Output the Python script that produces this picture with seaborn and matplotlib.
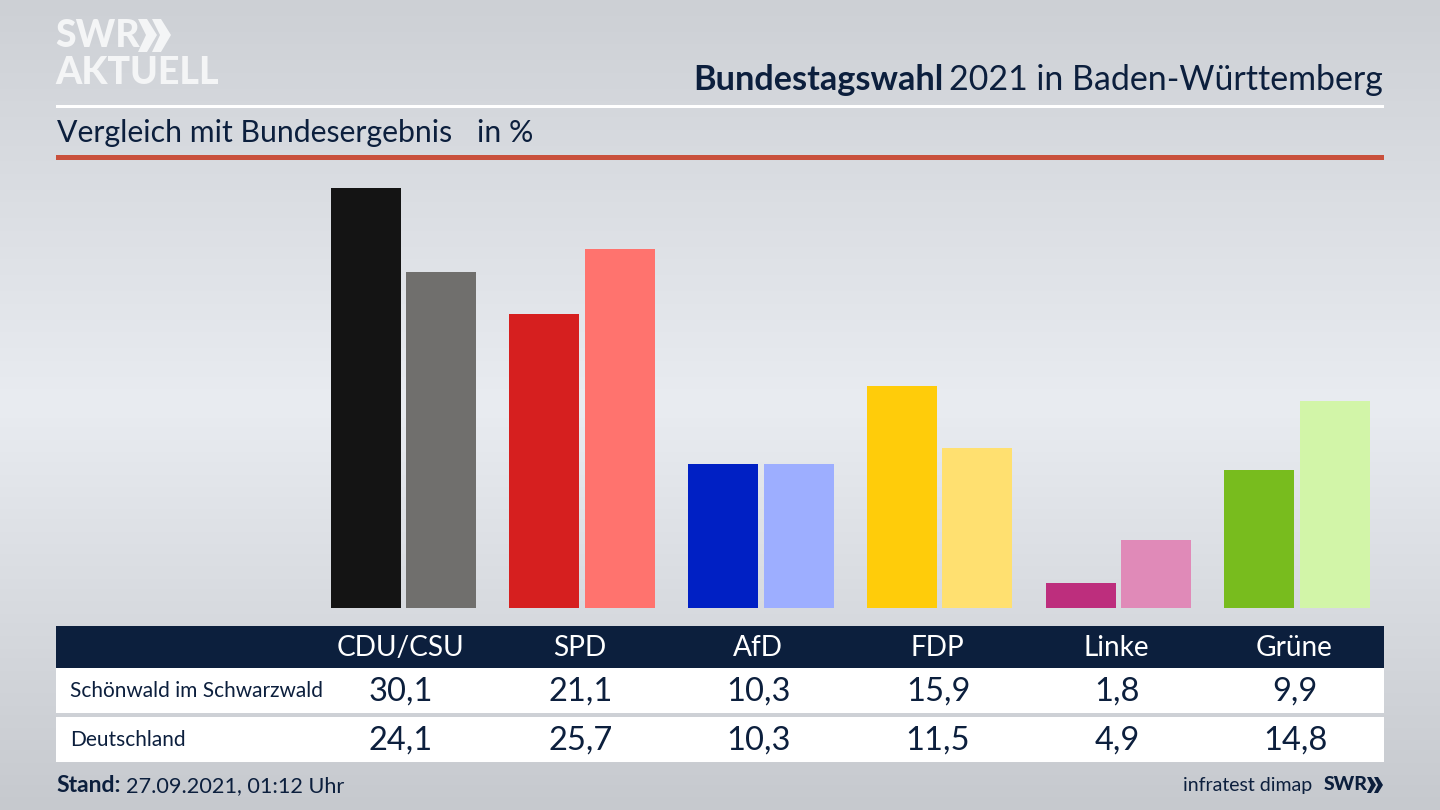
import numpy as np
import pandas as pd
import matplotlib
matplotlib.use('Agg')
import matplotlib.pyplot as plt
from matplotlib.patches import Polygon, Rectangle
import seaborn as sns

# Values
parties = ['CDU/CSU', 'SPD', 'AfD', 'FDP', 'Linke', 'Grüne']
regions = ['Schönwald im Schwarzwald', 'Deutschland']
schoenwald = [30.1, 21.1, 10.3, 15.9, 1.8, 9.9]
deutschland = [24.1, 25.7, 10.3, 11.5, 4.9, 14.8]
colors_local = ['#141414', '#d61f1f', '#0020c4', '#ffcc0a', '#bd2e7d', '#78bc1e']
colors_national = ['#706f6d', '#ff736e', '#9daeff', '#ffe070', '#e08ab8', '#d2f5a8']

NAVY = '#0c1f3d'
LOGO = '#f4f5f6'
W, H = 1440, 810

sns.set_theme(style='white')
plt.rcParams['font.family'] = ['Lato', 'DejaVu Sans']

df = pd.DataFrame({
    'party': parties * 2,
    'region': [regions[0]] * 6 + [regions[1]] * 6,
    'value': schoenwald + deutschland,
})

fig = plt.figure(figsize=(W / 100, H / 100), dpi=100)

# Full figure overlay in pixel coordinates for background, rules and table
bg = fig.add_axes([0, 0, 1, 1], zorder=0)
bg.set_xlim(0, W)
bg.set_ylim(H, 0)
bg.axis('off')
stops_y = [0, 0.5, 1]
stops_c = [205, 233, 198]
grad = np.interp(np.linspace(0, 1, 256), stops_y, stops_c)
rgb = np.stack([grad, grad + 3, grad + 8], axis=1)[:, None, :] / 255
bg.imshow(np.clip(rgb, 0, 1), extent=[0, W, H, 0], aspect='auto', zorder=0)

# Header
bg.add_patch(Rectangle((56, 104.5), 1328, 3, color='white', lw=0))
bg.add_patch(Rectangle((56, 155), 1328, 5, color='#c9503c', lw=0))
bg.text(944, 80, 'Bundestagswahl', ha='right', va='center', fontsize=24.7, fontweight='bold', color=NAVY)
bg.text(1383, 80, '2021 in Baden-Württemberg', ha='right', va='center', fontsize=24.4, color=NAVY)
bg.text(57, 133, 'Vergleich mit Bundesergebnis', ha='left', va='center', fontsize=21.8, color=NAVY)
bg.text(477, 133, 'in %', ha='left', va='center', fontsize=21.8, color=NAVY)

# Logo
bg.text(55, 36, 'SWR', ha='left', va='center', fontsize=27, fontweight='black', color=LOGO)
bg.text(55, 73, 'AKTUELL', ha='left', va='center', fontsize=27, fontweight='black', color=LOGO)
for x0 in (138, 152):
    bg.add_patch(Polygon([(x0, 19), (x0 + 9, 19), (x0 + 19, 35), (x0 + 9, 52), (x0, 52), (x0 + 8, 35)],
                         closed=True, color=LOGO, lw=0))

# Table
column_x = [400, 580, 758, 937, 1116, 1294]
bg.add_patch(Rectangle((56, 626), 1328, 42, color=NAVY, lw=0))
bg.add_patch(Rectangle((56, 668), 1328, 45, color='white', lw=0))
bg.add_patch(Rectangle((56, 717), 1328, 45, color='white', lw=0))
for x, party, a, b in zip(column_x, parties, schoenwald, deutschland):
    bg.text(x, 648, party, ha='center', va='center', fontsize=20.2, color='white')
    bg.text(x + 1, 692, f'{a:.1f}'.replace('.', ','), ha='center', va='center', fontsize=23.5, color=NAVY)
    bg.text(x + 1, 741, f'{b:.1f}'.replace('.', ','), ha='center', va='center', fontsize=23.5, color=NAVY)
bg.text(70, 691, regions[0], ha='left', va='center', fontsize=15, color=NAVY)
bg.text(70, 740, regions[1], ha='left', va='center', fontsize=15, color=NAVY)

# Footer
bg.text(56, 786, 'Stand:', ha='left', va='center', fontsize=16.5, fontweight='bold', color=NAVY)
bg.text(126, 786, '27.09.2021, 01:12 Uhr', ha='left', va='center', fontsize=15.6, color=NAVY)
bg.text(1312, 785, 'infratest dimap', ha='right', va='center', fontsize=14, color=NAVY)
bg.text(1324, 785, 'SWR', ha='left', va='center', fontsize=14, fontweight='black', color=NAVY)
for x0 in (1367, 1374):
    bg.add_patch(Polygon([(x0, 777), (x0 + 4, 777), (x0 + 9, 785), (x0 + 4, 793), (x0, 793), (x0 + 4, 785)],
                         closed=True, color=NAVY, lw=0))

# Bars, axes placed so the baseline sits on the picture's baseline
ax = fig.add_axes([314 / W, (H - 608) / H, 1072.4 / W, 420 / H], zorder=1)
ax.patch.set_alpha(0)
sns.barplot(data=df, x='party', y='value', hue='region', order=parties, hue_order=regions,
            width=0.845, gap=0.073, legend=False, ax=ax, errorbar=None)
for container, cols in zip(ax.containers, [colors_local, colors_national]):
    for bar, c in zip(container, cols):
        bar.set_facecolor(c)
        bar.set_edgecolor('none')
ax.set_xlim(-0.5, 5.5)
ax.set_ylim(0, 30.1)
ax.axis('off')

fig.savefig('out.png', dpi=100)
